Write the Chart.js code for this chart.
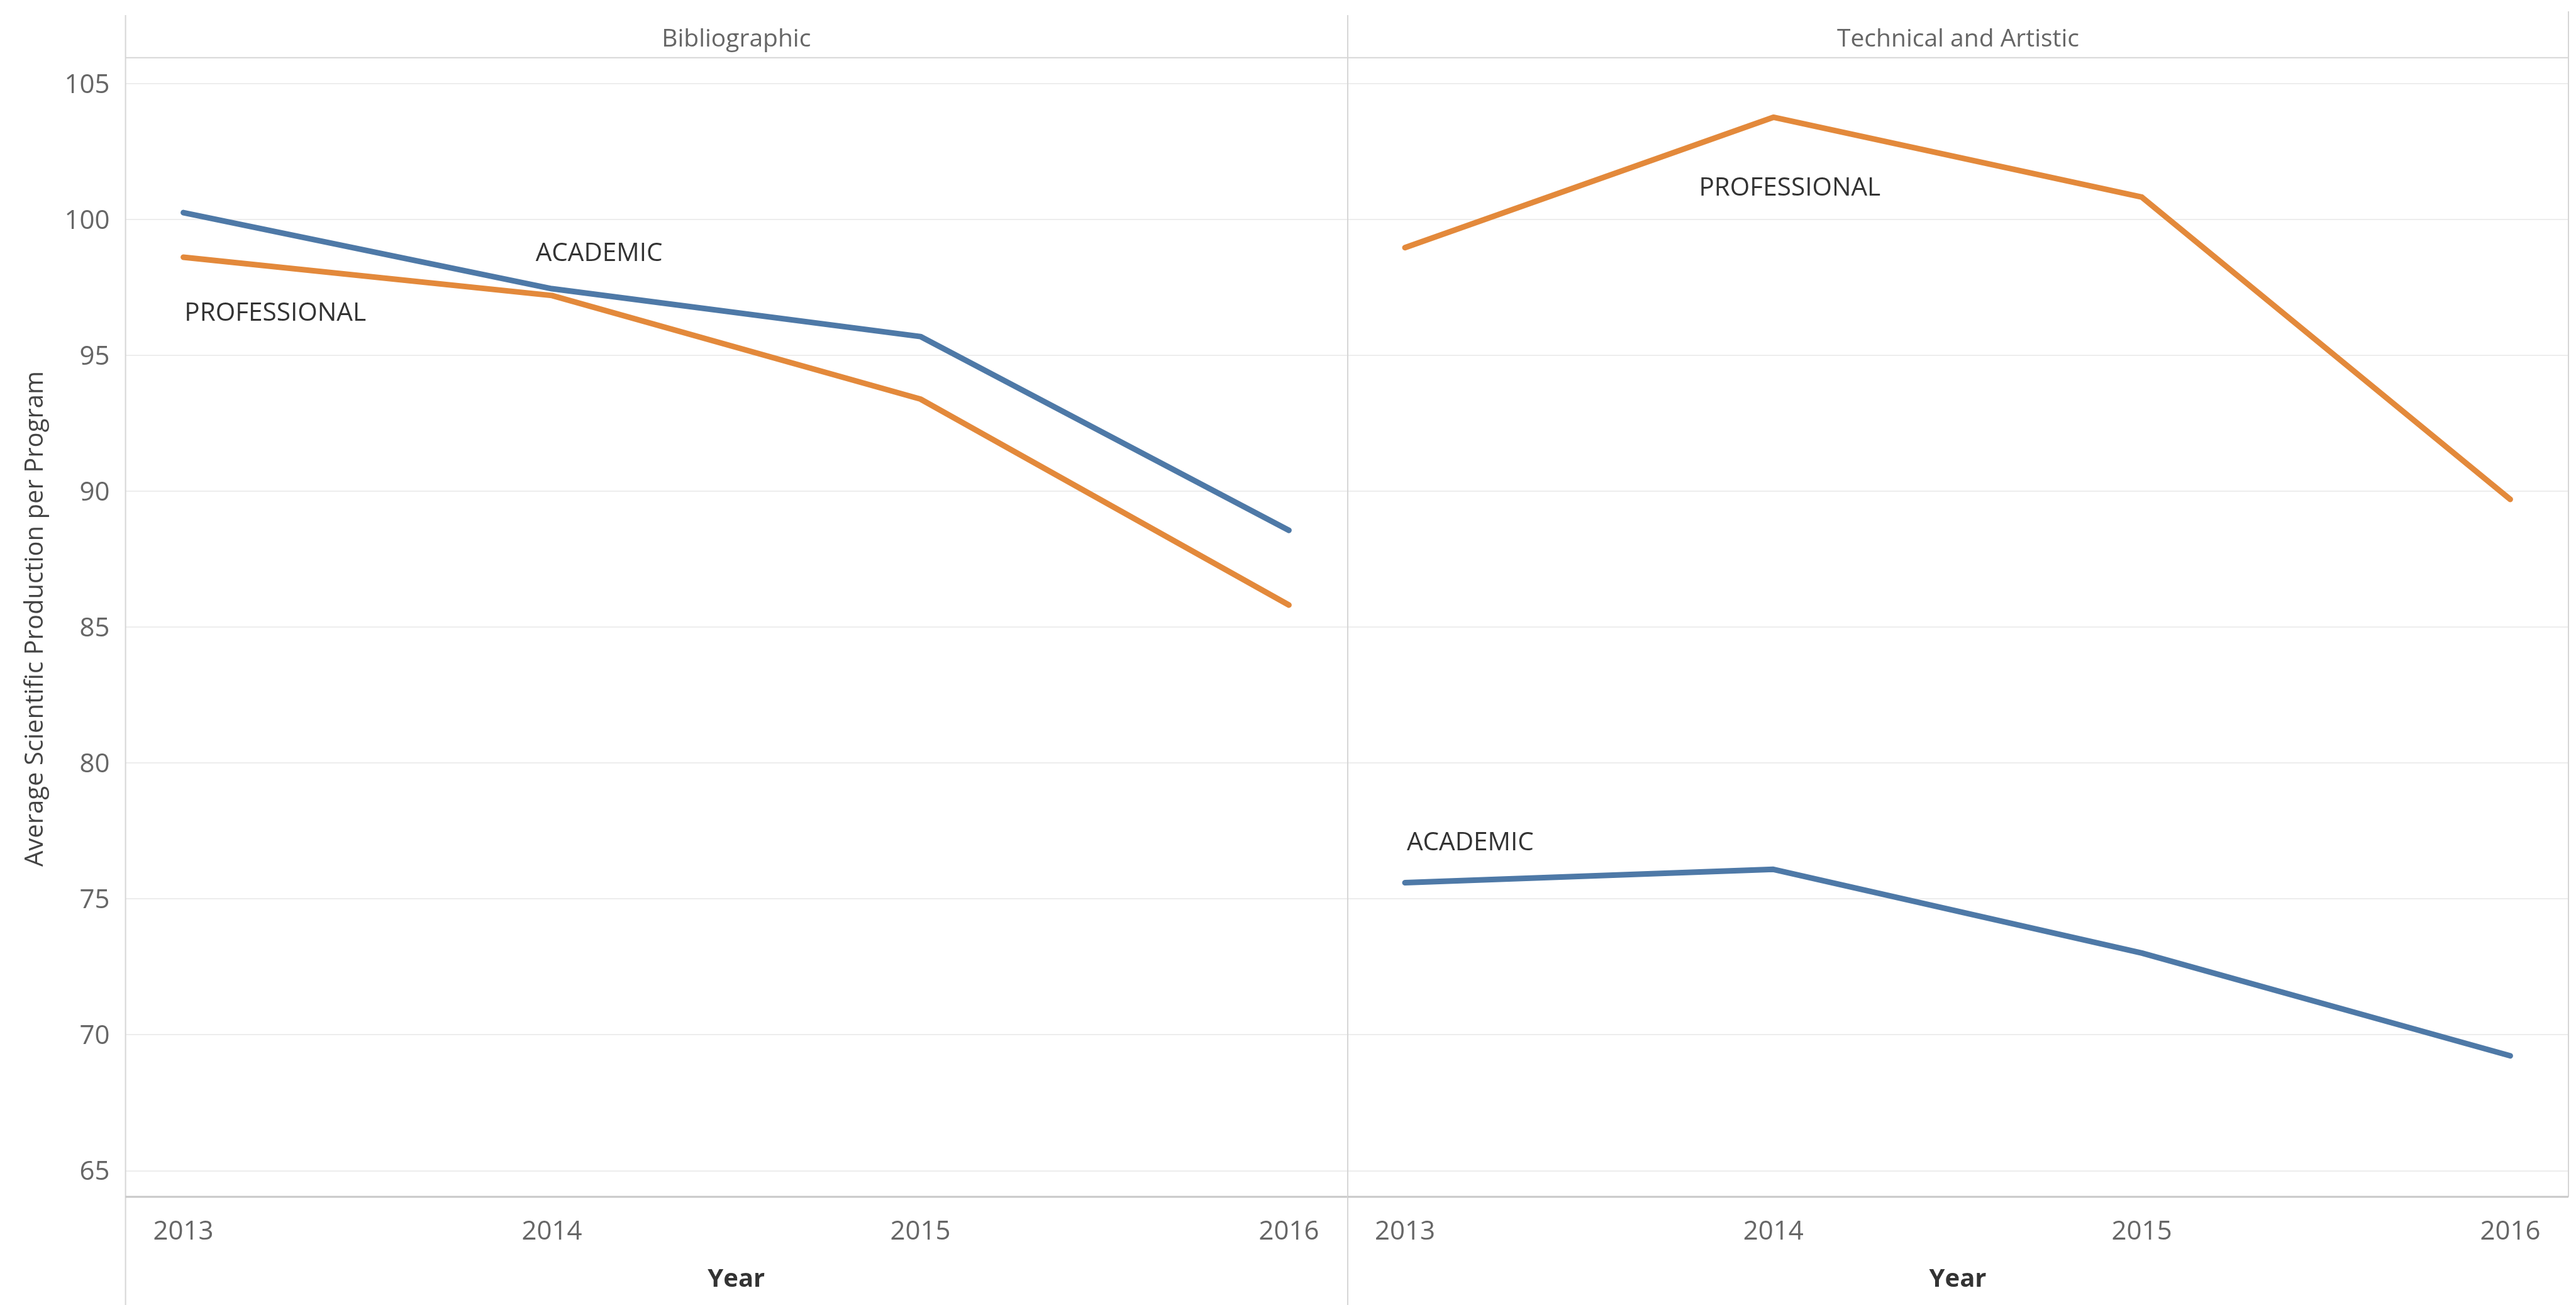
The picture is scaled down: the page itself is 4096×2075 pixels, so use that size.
<!DOCTYPE html>
<html><head><meta charset="utf-8">
<script src="https://cdn.jsdelivr.net/npm/chart.js@4.4.1/dist/chart.umd.min.js"></script>
<style>
html,body{margin:0;padding:0;background:#fff;width:4096px;height:2075px;overflow:hidden}
.panel{position:absolute;top:0;height:2075px}
#p1{left:0;width:2142px}
#p2{left:2142px;width:1954px}
</style></head><body>
<div class="panel" id="p1"><canvas id="c1"></canvas></div>
<div class="panel" id="p2"><canvas id="c2"></canvas></div>
<script>
// ---- data ----
const years = [2013, 2014, 2015, 2016];
const panelNames = ['Bibliographic', 'Technical and Artistic'];
const seriesNames = ['ACADEMIC', 'PROFESSIONAL'];
const bibAcademic = [100.26, 97.46, 95.70, 88.57];
const bibProfessional = [98.62, 97.21, 93.40, 85.82];
const techAcademic = [75.60, 76.09, 73.01, 69.23];
const techProfessional = [98.97, 103.77, 100.83, 89.71];
const yTicks = [65, 70, 75, 80, 85, 90, 95, 100, 105];
const yTitle = 'Average Scientific Production per Program';
const xTitle = 'Year';
// text label anchors (year, value) for ACADEMIC, PROFESSIONAL
const bibLabelAnchors = [[2013.956, 98.82], [2013.003, 96.61]];
const techLabelAnchors = [[2013.005, 77.14], [2013.798, 101.22]];

const BLUE = '#4e79a7', ORANGE = '#e3893b';
const FONT = '"Open Sans", "DejaVu Sans", sans-serif';

const framePlugin = {
  id: 'frame',
  beforeDatasetsDraw(chart, args, o) {
    const {ctx, chartArea: a} = chart;
    const H = chart.height;
    ctx.save();
    ctx.strokeStyle = '#d6d6d6';
    ctx.lineWidth = 2;
    const lx = o.first ? a.left : 1;
    ctx.beginPath(); ctx.moveTo(lx, 24); ctx.lineTo(lx, H); ctx.stroke();
    ctx.beginPath(); ctx.moveTo(lx, 91.8); ctx.lineTo(a.right, 91.8); ctx.stroke();
    if (!o.first) {
      ctx.beginPath(); ctx.moveTo(a.right, 18); ctx.lineTo(a.right, a.bottom); ctx.stroke();
    }
    ctx.strokeStyle = '#c8c8c8';
    ctx.lineWidth = 3;
    ctx.beginPath(); ctx.moveTo(lx, a.bottom); ctx.lineTo(a.right, a.bottom); ctx.stroke();
    ctx.fillStyle = '#666';
    ctx.font = '39px ' + FONT;
    ctx.textAlign = 'center';
    ctx.textBaseline = 'middle';
    ctx.fillText(o.header, (lx + a.right) / 2, 63);
    if (o.first) {
      ctx.save();
      ctx.translate(57, 984);
      ctx.rotate(-Math.PI / 2);
      ctx.fillStyle = '#444';
      ctx.font = '40px ' + FONT;
      ctx.fillText(yTitle, 0, 0);
      ctx.restore();
    }
    ctx.restore();
  },
  afterDatasetsDraw(chart, args, o) {
    const {ctx} = chart;
    const xs = chart.scales.x, ys = chart.scales.y;
    ctx.save();
    ctx.fillStyle = '#333';
    ctx.font = '40.5px ' + FONT;
    ctx.textAlign = 'left';
    ctx.textBaseline = 'middle';
    o.anchors.forEach((p, i) => {
      ctx.fillText(seriesNames[i], xs.getPixelForValue(p[0]), ys.getPixelForValue(p[1]) + 3);
    });
    ctx.restore();
  }
};

function makeChart(id, header, acad, prof, anchors, first) {
  const pts = arr => years.map((y, i) => ({x: y, y: arr[i]}));
  return new Chart(document.getElementById(id), {
    type: 'line',
    data: {
      datasets: [
        {label: seriesNames[0], data: pts(acad), borderColor: BLUE, backgroundColor: BLUE},
        {label: seriesNames[1], data: pts(prof), borderColor: ORANGE, backgroundColor: ORANGE}
      ]
    },
    options: {
      responsive: true, maintainAspectRatio: false, animation: false, devicePixelRatio: 1,
      layout: {padding: {top: 91.8, left: 0, right: first ? 0 : 12, bottom: 0}},
      elements: {
        line: {borderWidth: 9, tension: 0, borderJoinStyle: 'round', borderCapStyle: 'round'},
        point: {radius: 0, hoverRadius: 0}
      },
      plugins: {
        legend: {display: false}, tooltip: {enabled: false},
        frame: {first: first, header: header, anchors: anchors}
      },
      scales: {
        x: {
          type: 'linear', min: 2012.843, max: 2016.158,
          afterBuildTicks: s => { s.ticks = years.map(v => ({value: v})); },
          afterFit: s => { s.height = 172; },
          ticks: {callback: v => String(v), font: {family: FONT, size: 42}, color: '#666', padding: 31, maxRotation: 0, autoSkip: false},
          grid: {display: false, drawTicks: false},
          border: {display: false},
          title: {display: true, text: xTitle, font: {family: FONT, size: 40, weight: 'bold'}, color: '#333', padding: {top: 0, bottom: 16}}
        },
        y: {
          type: 'linear', min: 64.04, max: 105.96,
          afterBuildTicks: s => { s.ticks = yTicks.map(v => ({value: v})); },
          afterFit: s => { s.width = first ? 199.6 : 0; },
          ticks: {display: first, font: {family: FONT, size: 42}, color: '#666', padding: 25, labelOffset: 2.5},
          grid: {color: '#ededed', lineWidth: 2, drawTicks: false},
          border: {display: false},
          title: {display: false}
        }
      }
    },
    plugins: [framePlugin]
  });
}

makeChart('c1', panelNames[0], bibAcademic, bibProfessional, bibLabelAnchors, true);
makeChart('c2', panelNames[1], techAcademic, techProfessional, techLabelAnchors, false);
</script>
</body></html>
